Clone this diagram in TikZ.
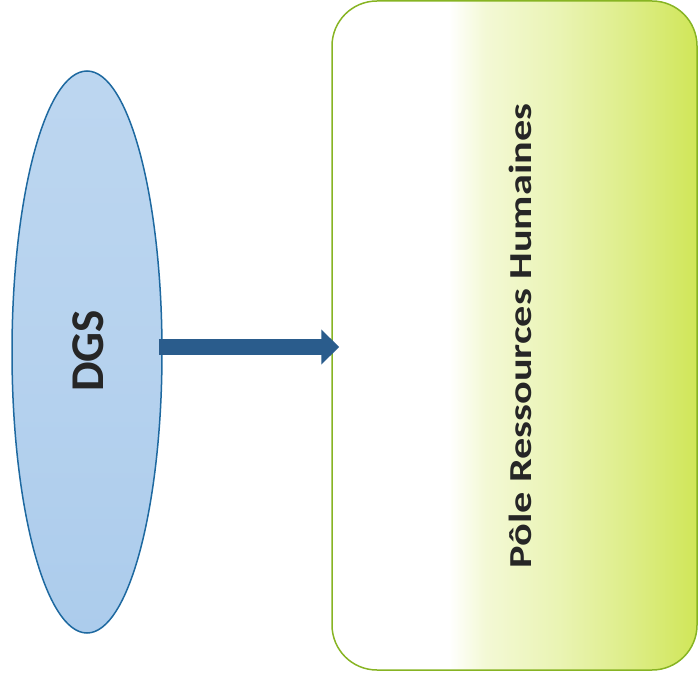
\documentclass[tikz,border=0pt]{standalone}
\usepackage{fontspec}
\setmainfont{Carlito}
\usetikzlibrary{shapes.geometric,arrows.meta}
\definecolor{ellfill}{RGB}{172,204,236}
\definecolor{elldraw}{RGB}{30,105,160}
\definecolor{arrcol}{RGB}{42,92,140}
\definecolor{boxgreen}{RGB}{208,230,88}
\definecolor{boxdraw}{RGB}{135,180,35}
\pgfdeclarehorizontalshading{boxshade}{100bp}{color(0bp)=(white); color(25bp)=(white); color(41bp)=(white); color(46bp)=(boxgreen!25!white); color(56bp)=(boxgreen!45!white); color(66bp)=(boxgreen!72!white); color(75bp)=(boxgreen); color(100bp)=(boxgreen)}
\tikzset{
  ellbox/.style={ellipse, draw=elldraw, line width=1.5pt, inner sep=0pt,
    top color=ellfill!80!white, bottom color=ellfill, middle color=ellfill!88!white},
  rhbox/.style={draw=boxdraw, line width=1.5pt, rounded corners=45pt, inner sep=0pt, shading=boxshade, shading angle=0},
  lbl/.style={text=black!85, rotate=90, anchor=base, inner sep=0pt},
  bigarrow/.style={draw=arrcol, line width=16pt, -{Triangle[length=18pt,width=34pt]}, arrcol}
}
\begin{document}
\begin{tikzpicture}[x=1pt,y=1pt]
\useasboundingbox (0,0) rectangle (700,681);
\node[ellbox, minimum width=150pt, minimum height=562pt] (dgs) at (87,329) {};
\node[rhbox, minimum width=365pt, minimum height=669pt] (pole) at (514.5,345.5) {};
\node[lbl, font=\bfseries\fontsize{47}{50}\selectfont] (dgst) at (103,330) {DGS};
\node[lbl, font=\bfseries\fontsize{32}{36}\selectfont] (polet) at (531,345) {\scalebox{1.32}[1]{Pôle Ressources Humaines}};
\draw[bigarrow, shorten <=-4pt, shorten >=-8pt] (dgs.east |- 0,334) -- (pole.west |- 0,334);
\end{tikzpicture}
\end{document}
